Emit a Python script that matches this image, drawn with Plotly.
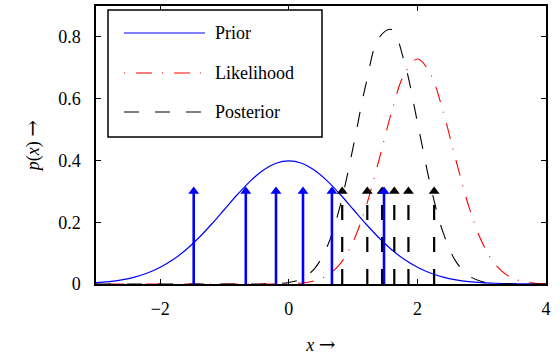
import plotly.graph_objects as go

# ---- data ----
x_grid = [-3.0, -2.8, -2.6, -2.4, -2.2, -2.0, -1.8, -1.6, -1.4, -1.2, -1.0, -0.8,
          -0.6, -0.4, -0.2, 0.0, 0.2, 0.4, 0.6, 0.8, 1.0, 1.2, 1.4, 1.6, 1.8, 2.0,
          2.2, 2.4, 2.6, 2.8, 3.0, 3.2, 3.4, 3.6, 3.8, 4.0]
prior = [0.0044, 0.0079, 0.0136, 0.0224, 0.0355, 0.0540, 0.0790, 0.1109, 0.1497,
         0.1942, 0.2420, 0.2897, 0.3332, 0.3683, 0.3910, 0.3989, 0.3910, 0.3683,
         0.3332, 0.2897, 0.2420, 0.1942, 0.1497, 0.1109, 0.0790, 0.0540, 0.0355,
         0.0224, 0.0136, 0.0079, 0.0044, 0.0024, 0.0012, 0.0006, 0.0003, 0.0001]
likelihood = [0, 0, 0, 0, 0, 0, 0, 0, 0, 0, 0, 0, 0, 0, 0.0002, 0.0009, 0.0033,
              0.0102, 0.0278, 0.0661, 0.1376, 0.2507, 0.3998, 0.5579, 0.6814,
              0.7284, 0.6814, 0.5579, 0.3998, 0.2507, 0.1376, 0.0661, 0.0278,
              0.0102, 0.0033, 0.0009]
posterior = [0, 0, 0, 0, 0, 0, 0, 0, 0, 0, 0, 0, 0, 0.0002, 0.0012, 0.0049, 0.0171,
             0.0500, 0.1232, 0.2548, 0.4430, 0.6479, 0.7967, 0.8237, 0.7161,
             0.5235, 0.3218, 0.1663, 0.0723, 0.0264, 0.0081, 0.0021, 0.0005,
             0.0001, 0, 0]
prior_samples = [-1.48, -0.67, -0.20, 0.22, 0.67, 1.48]
posterior_samples = [0.83, 1.22, 1.45, 1.64, 1.86, 2.26]
sample_height = 0.3
legend_labels = ["Prior", "Likelihood", "Posterior"]
x_ticks = [-2, 0, 2, 4]
y_ticks = [0, 0.2, 0.4, 0.6, 0.8]

FONT = "Liberation Serif"
W, H = 560, 358
L, R, T, B = 96, 14, 6, 74
DASH = "15px,16px"
DASHDOT = "1px,11px,16px,10px"
ARROW = "<span style='font-family:DejaVu Serif;font-size:20px'>→</span>"


def stems(xs, h):
    sx, sy = [], []
    for v in xs:
        sx += [v, v, None]
        sy += [0, h, None]
    return sx, sy


fig = go.Figure()
fig.add_trace(go.Scatter(x=x_grid, y=prior, mode="lines", line=dict(color="#0000ff", width=1.2, shape="spline"),
                         showlegend=False))
fig.add_trace(go.Scatter(x=x_grid, y=likelihood, mode="lines",
                         line=dict(color="#ff0000", width=1.1, shape="spline", dash=DASHDOT),
                         showlegend=False))
fig.add_trace(go.Scatter(x=x_grid, y=posterior, mode="lines",
                         line=dict(color="black", width=1.1, shape="spline", dash=DASH),
                         showlegend=False))

# posterior sample stems (black, dashed) with arrow heads
bx, by = stems(posterior_samples, sample_height)
fig.add_trace(go.Scatter(x=bx, y=by, mode="lines", line=dict(color="black", width=2.2, dash="15px,17px"),
                         showlegend=False))
fig.add_trace(go.Scatter(x=posterior_samples, y=[sample_height] * len(posterior_samples), mode="markers",
                         marker=dict(symbol="triangle-up", size=9.5, color="black"), showlegend=False))
# prior sample stems (blue, solid)
px_, py_ = stems(prior_samples, sample_height)
fig.add_trace(go.Scatter(x=px_, y=py_, mode="lines", line=dict(color="#0000ff", width=2.6),
                         showlegend=False))
fig.add_trace(go.Scatter(x=prior_samples, y=[sample_height] * len(prior_samples), mode="markers",
                         marker=dict(symbol="triangle-up", size=9.5, color="#0000ff"), showlegend=False))

pw, ph = W - L - R, H - T - B


def pxx(p):
    return (p - L) / pw


def pxy(p):
    return (H - B - p) / ph


# manual legend
shapes = [dict(type="rect", xref="paper", yref="paper", x0=pxx(108), x1=pxx(322), y0=pxy(137), y1=pxy(10),
               line=dict(color="black", width=1.5), fillcolor="white", layer="above")]
styles = [dict(color="#0000ff", width=1.2), dict(color="#ff0000", width=1.2, dash=DASHDOT),
          dict(color="black", width=1.2, dash=DASH)]
rows = [33, 73, 112]
annotations = []
for lab, st, r in zip(legend_labels, styles, rows):
    shapes.append(dict(type="line", xref="paper", yref="paper", x0=pxx(124), x1=pxx(205), y0=pxy(r), y1=pxy(r),
                       line=st, layer="above"))
    annotations.append(dict(xref="paper", yref="paper", x=pxx(213), y=pxy(r), text=lab, showarrow=False,
                            xanchor="left", yanchor="middle", font=dict(family=FONT, size=18, color="black")))

fig.update_layout(
    width=W, height=H, margin=dict(l=L, r=R, t=T, b=B, autoexpand=False),
    paper_bgcolor="white", plot_bgcolor="white",
    font=dict(family=FONT, size=18, color="black"),
    shapes=shapes, annotations=annotations,
    xaxis=dict(range=[-3, 4], tickvals=x_ticks, ticks="inside", ticklen=5, tickwidth=1, tickcolor="black",
               showline=True, linecolor="black", linewidth=1.5, mirror="ticks", showgrid=False, zeroline=False,
               ticklabelstandoff=8, tickfont=dict(family=FONT, size=18),
               title=dict(text="<i>x</i> " + ARROW, standoff=20, font=dict(family=FONT, size=18))),
    yaxis=dict(range=[0, 0.9], tickvals=y_ticks, ticks="inside", ticklen=5, tickwidth=1, tickcolor="black",
               showline=True, linecolor="black", linewidth=1.5, mirror="ticks", showgrid=False, zeroline=False,
               ticklabelstandoff=10, tickfont=dict(family=FONT, size=18),
               title=dict(text="<i>p</i>(<i>x</i>) " + ARROW, standoff=14, font=dict(family=FONT, size=18))),
)

fig.write_html("out.html", config={"displayModeBar": False},
               post_script="document.body.style.margin='0';document.body.style.padding='0';")
